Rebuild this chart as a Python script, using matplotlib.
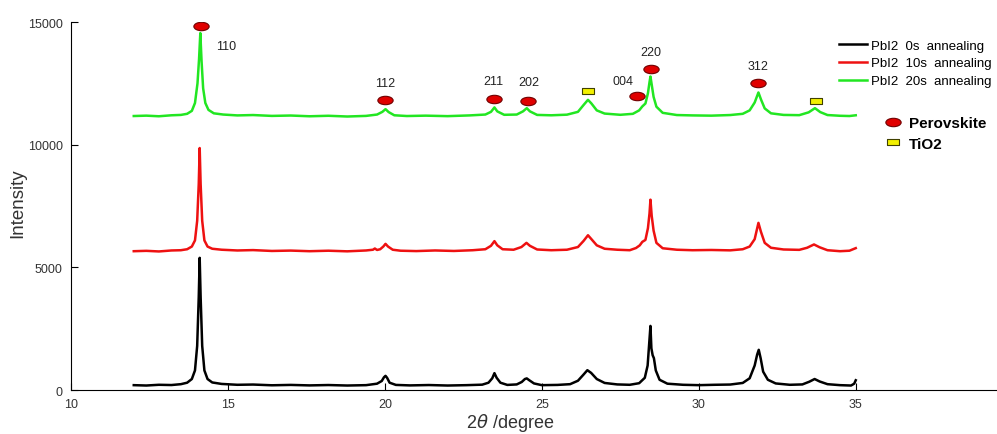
import numpy as np
import matplotlib.pyplot as plt
from matplotlib.path import Path
from matplotlib.transforms import Affine2D
from matplotlib.lines import Line2D

plt.rcParams['font.family'] = ['Liberation Sans', 'DejaVu Sans']

# 0s annealing (black)
x0 = [12.0, 12.4, 12.8, 13.2, 13.5, 13.7, 13.85, 13.95, 14.02, 14.07, 14.1, 14.13, 14.18, 14.25,
      14.35, 14.5, 14.8, 15.3, 15.8, 16.4, 17.0, 17.6, 18.2, 18.8, 19.4, 19.75, 19.9, 19.97,
      20.02, 20.07, 20.15, 20.35, 20.8, 21.4, 22.0, 22.6, 23.1, 23.3, 23.42, 23.49, 23.56, 23.68,
      23.9, 24.2, 24.36, 24.46, 24.52, 24.6, 24.75, 25.0, 25.5, 25.9, 26.15, 26.32, 26.45, 26.57,
      26.75, 27.0, 27.4, 27.8, 28.1, 28.28, 28.37, 28.42, 28.46, 28.49, 28.53, 28.57, 28.63, 28.75,
      29.0, 29.5, 30.0, 30.5, 31.0, 31.4, 31.62, 31.78, 31.86, 31.91, 31.97, 32.05, 32.2, 32.45,
      32.9, 33.3, 33.52, 33.69, 33.85, 34.1, 34.5, 34.85, 34.95, 35.0]
y0 = [200, 185, 215, 205, 240, 300, 450, 800, 1800, 3800, 5390, 3800, 1800, 800,
      450, 310, 250, 215, 225, 195, 210, 190, 205, 185, 200, 260, 370, 520,
      580, 500, 300, 210, 190, 205, 185, 200, 220, 300, 480, 690, 500, 300,
      210, 230, 330, 450, 475, 400, 270, 200, 210, 240, 380, 620, 810, 700,
      450, 290, 230, 215, 280, 500, 1000, 1900, 2615, 1700, 1420, 1300, 800, 420,
      260, 215, 200, 215, 225, 290, 480, 1000, 1450, 1640, 1300, 750, 420, 270,
      215, 230, 340, 450, 350, 240, 200, 185, 260, 400]

# 10s annealing (red)
x10 = [12.0, 12.4, 12.8, 13.2, 13.5, 13.7, 13.85, 13.95, 14.02, 14.07, 14.1, 14.13, 14.18, 14.25,
       14.35, 14.5, 14.8, 15.3, 15.8, 16.4, 17.0, 17.6, 18.2, 18.8, 19.4, 19.62, 19.68, 19.75,
       19.85, 19.95, 20.02, 20.1, 20.25, 20.5, 21.0, 21.6, 22.2, 22.8, 23.2, 23.38, 23.49, 23.58,
       23.75, 24.1, 24.35, 24.51, 24.62, 24.85, 25.3, 25.8, 26.15, 26.33, 26.47, 26.58, 26.75, 27.0,
       27.4, 27.8, 28.0, 28.12, 28.2, 28.3, 28.38, 28.43, 28.46, 28.5, 28.56, 28.65, 28.85, 29.3,
       29.8, 30.4, 31.0, 31.4, 31.62, 31.78, 31.9, 31.98, 32.1, 32.3, 32.7, 33.2, 33.45, 33.67,
       33.85, 34.1, 34.5, 34.8, 35.0]
y10 = [5660, 5675, 5650, 5690, 5700, 5740, 5850, 6100, 6900, 8400, 9865, 8400, 6900, 6100,
       5850, 5760, 5720, 5690, 5705, 5670, 5685, 5660, 5680, 5655, 5690, 5720, 5770, 5710,
       5740, 5850, 5960, 5850, 5720, 5680, 5665, 5690, 5670, 5700, 5740, 5880, 6070, 5900,
       5740, 5720, 5830, 6000, 5880, 5730, 5700, 5720, 5830, 6080, 6310, 6150, 5900, 5760,
       5720, 5700, 5790, 5900, 6040, 6120, 6600, 7200, 7760, 7100, 6500, 6000, 5780, 5720,
       5700, 5710, 5695, 5740, 5850, 6150, 6815, 6450, 6000, 5800, 5730, 5715, 5800, 5935,
       5820, 5700, 5660, 5680, 5785]

# 20s annealing (green)
x20 = [12.0, 12.4, 12.8, 13.2, 13.5, 13.7, 13.85, 13.95, 14.03, 14.08, 14.12, 14.16, 14.21, 14.28,
       14.38, 14.55, 14.85, 15.3, 15.8, 16.4, 17.0, 17.6, 18.2, 18.8, 19.4, 19.75, 19.92, 20.02,
       20.12, 20.3, 20.7, 21.3, 22.0, 22.7, 23.2, 23.38, 23.49, 23.58, 23.8, 24.2, 24.4, 24.52,
       24.62, 24.85, 25.3, 25.8, 26.15, 26.33, 26.47, 26.58, 26.75, 27.0, 27.5, 27.9, 28.1, 28.2,
       28.3, 28.38, 28.43, 28.46, 28.5, 28.56, 28.65, 28.85, 29.3, 29.8, 30.4, 31.0, 31.4, 31.62,
       31.78, 31.9, 31.98, 32.1, 32.3, 32.7, 33.2, 33.5, 33.7, 33.87, 34.1, 34.5, 34.8, 35.0]
y20 = [11170, 11185, 11160, 11200, 11215, 11260, 11380, 11700, 12500, 13500, 14550, 13400, 12300, 11700,
       11420, 11280, 11230, 11195, 11210, 11175, 11190, 11160, 11180, 11150, 11175, 11230, 11340, 11450,
       11330, 11200, 11170, 11185, 11165, 11195, 11230, 11340, 11520, 11360, 11220, 11230, 11360, 11490,
       11360, 11215, 11200, 11225, 11340, 11620, 11830, 11680, 11400, 11270, 11220, 11260, 11400, 11560,
       11680, 12100, 12550, 12780, 12450, 11950, 11550, 11300, 11210, 11195, 11185, 11210, 11260, 11400,
       11720, 12130, 11850, 11480, 11280, 11215, 11205, 11320, 11490, 11330, 11210, 11180, 11170, 11200]

# peak markers
perov_x = [14.14, 20.0, 23.47, 24.55, 28.03, 28.47, 31.88]
perov_y = [14840, 11830, 11870, 11790, 11990, 13090, 12520]
tio2_x = [26.46, 33.73]
tio2_y = [12195, 11790]

hkl = ['110', '112', '211', '202', '004', '220', '312']
hkl_x = [14.95, 20.0, 23.47, 24.6, 27.6, 28.47, 31.88]
hkl_y = [14020, 12520, 12600, 12560, 12600, 13780, 13210]

ellipse = Path.unit_circle().transformed(Affine2D().scale(1, 0.55))
rect = Path([(-1, -0.55), (1, -0.55), (1, 0.55), (-1, 0.55), (-1, -0.55)],
            [Path.MOVETO, Path.LINETO, Path.LINETO, Path.LINETO, Path.CLOSEPOLY])

fig, ax = plt.subplots(figsize=(9.97, 4.35), dpi=100)
fig.subplots_adjust(left=0.0712, right=1.0, bottom=0.101, top=0.947)

ax.plot(x0, y0, color='black', lw=1.8, label='PbI2  0s  annealing')
ax.plot(x10, y10, color='#ee1111', lw=1.8, label='PbI2  10s  annealing')
ax.plot(x20, y20, color='#22e622', lw=1.8, label='PbI2  20s  annealing')

ax.plot(perov_x, perov_y, ls='none', marker=ellipse, ms=11, mfc='#e00000', mec='#700000', mew=0.8)
ax.plot(tio2_x, tio2_y, ls='none', marker=rect, ms=9, mfc='#f2f000', mec='#404000', mew=0.8)
for t, tx, ty in zip(hkl, hkl_x, hkl_y):
    ax.text(tx, ty, t, ha='center', va='center', fontsize=9, color='#222222')

ax.set_xlim(10, 39.5)
ax.set_ylim(0, 15000)
ax.set_xticks([10, 15, 20, 25, 30, 35])
ax.set_yticks([0, 5000, 10000, 15000])
ax.tick_params(direction='in', length=5, width=0.8, labelsize=9, labelcolor='#333333', pad=6)
ax.spines['top'].set_visible(False)
ax.spines['right'].set_visible(False)
ax.set_xlabel(r'2$\theta$ /degree', fontsize=13, color='#333333')
ax.xaxis.set_label_coords(0.474, -0.058)
ax.set_ylabel('Intensity', fontsize=13.5, color='#333333')
ax.yaxis.set_label_coords(-0.048, 0.51)

leg1 = ax.legend(loc='upper left', bbox_to_anchor=(0.842, 0.907), bbox_transform=fig.transFigure,
                 frameon=False, fontsize=9.5, handlelength=2.1, handletextpad=0.3,
                 labelspacing=0.42, borderaxespad=0, borderpad=0)
ax.add_artist(leg1)

h1 = Line2D([], [], ls='none', marker=ellipse, ms=11, mfc='#e00000', mec='#700000', mew=0.8)
h2 = Line2D([], [], ls='none', marker=rect, ms=9, mfc='#f2f000', mec='#404000', mew=0.8)
leg2 = ax.legend([h1, h2], ['Perovskite', 'TiO2'], loc='upper left', bbox_to_anchor=(0.886, 0.73),
                 bbox_transform=fig.transFigure, frameon=False, handlelength=1.2,
                 handletextpad=0.5, labelspacing=0.4, borderaxespad=0, borderpad=0,
                 prop={'size': 11, 'weight': 'bold'})

plt.savefig('out.png', dpi=100)
